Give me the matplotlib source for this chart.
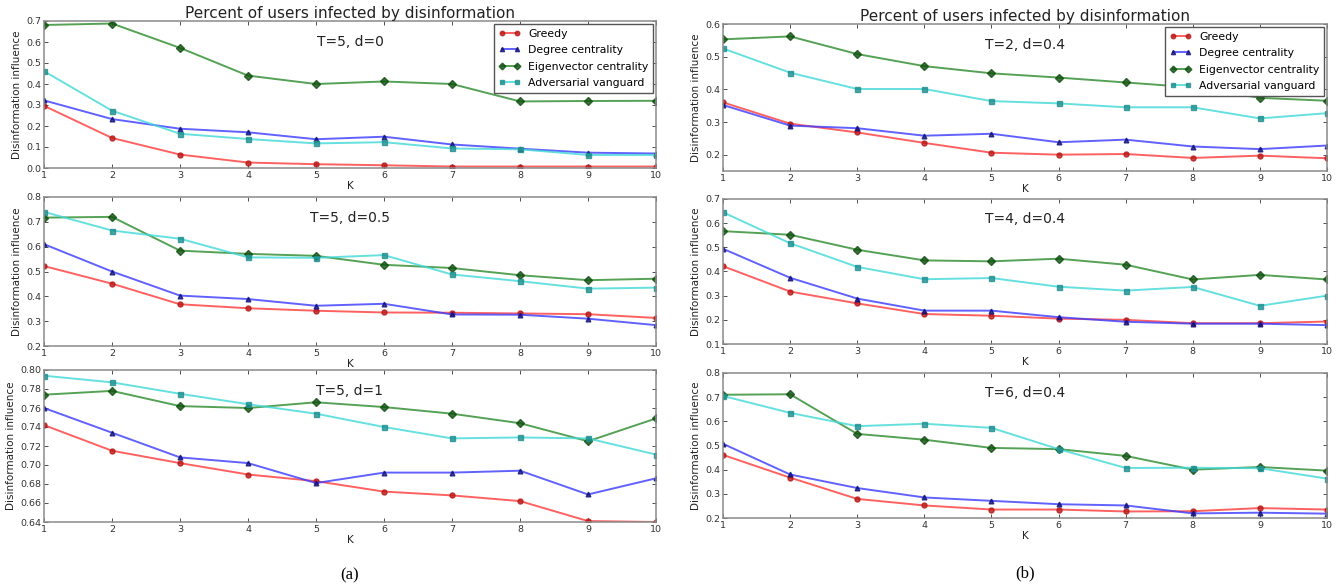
import matplotlib
matplotlib.use('Agg')
import matplotlib.pyplot as plt
from matplotlib.ticker import FormatStrFormatter

K = list(range(1, 11))
series_names = ["Greedy", "Degree centrality", "Eigenvector centrality", "Adversarial vanguard"]
main_title = "Percent of users infected by disinformation"
ylabel = "Disinformation influence"
xlabel = "K"

# ---- column (a): T=5, d in {0, 0.5, 1}
a1_label = "T=5, d=0"
a1_greedy = [0.296, 0.143, 0.064, 0.026, 0.018, 0.013, 0.007, 0.007, 0.007, 0.007]
a1_degree = [0.322, 0.233, 0.187, 0.170, 0.137, 0.149, 0.112, 0.092, 0.073, 0.069]
a1_eigen = [0.681, 0.688, 0.572, 0.440, 0.400, 0.412, 0.400, 0.317, 0.319, 0.320]
a1_adv = [0.461, 0.273, 0.163, 0.138, 0.117, 0.123, 0.093, 0.089, 0.062, 0.062]

a2_label = "T=5, d=0.5"
a2_greedy = [0.522, 0.451, 0.368, 0.352, 0.342, 0.335, 0.334, 0.331, 0.328, 0.313]
a2_degree = [0.610, 0.500, 0.403, 0.389, 0.362, 0.370, 0.327, 0.326, 0.310, 0.284]
a2_eigen = [0.717, 0.720, 0.584, 0.571, 0.563, 0.527, 0.514, 0.485, 0.465, 0.471]
a2_adv = [0.740, 0.665, 0.632, 0.557, 0.555, 0.566, 0.488, 0.461, 0.431, 0.435]

a3_label = "T=5, d=1"
a3_greedy = [0.742, 0.715, 0.702, 0.690, 0.683, 0.672, 0.668, 0.662, 0.641, 0.640]
a3_degree = [0.760, 0.734, 0.708, 0.702, 0.681, 0.692, 0.692, 0.694, 0.669, 0.686]
a3_eigen = [0.774, 0.778, 0.762, 0.760, 0.766, 0.761, 0.754, 0.744, 0.725, 0.749]
a3_adv = [0.794, 0.787, 0.775, 0.764, 0.754, 0.740, 0.728, 0.729, 0.728, 0.711]

# ---- column (b): d=0.4, T in {2, 4, 6}
b1_label = "T=2, d=0.4"
b1_greedy = [0.360, 0.295, 0.268, 0.236, 0.206, 0.200, 0.202, 0.190, 0.197, 0.189]
b1_degree = [0.352, 0.289, 0.281, 0.258, 0.264, 0.238, 0.246, 0.225, 0.217, 0.228]
b1_eigen = [0.553, 0.562, 0.508, 0.471, 0.449, 0.436, 0.421, 0.406, 0.374, 0.365]
b1_adv = [0.525, 0.451, 0.401, 0.401, 0.364, 0.357, 0.345, 0.345, 0.311, 0.327]

b2_label = "T=4, d=0.4"
b2_greedy = [0.422, 0.317, 0.268, 0.224, 0.217, 0.205, 0.200, 0.186, 0.186, 0.193]
b2_degree = [0.494, 0.374, 0.288, 0.238, 0.238, 0.211, 0.192, 0.184, 0.184, 0.178]
b2_eigen = [0.567, 0.552, 0.490, 0.446, 0.442, 0.453, 0.428, 0.367, 0.386, 0.367]
b2_adv = [0.645, 0.517, 0.419, 0.368, 0.373, 0.337, 0.321, 0.336, 0.258, 0.300]

b3_label = "T=6, d=0.4"
b3_greedy = [0.461, 0.367, 0.279, 0.252, 0.235, 0.235, 0.227, 0.228, 0.241, 0.235]
b3_degree = [0.507, 0.380, 0.324, 0.285, 0.271, 0.257, 0.252, 0.219, 0.222, 0.218]
b3_eigen = [0.710, 0.712, 0.548, 0.524, 0.490, 0.485, 0.457, 0.400, 0.411, 0.396]
b3_adv = [0.705, 0.635, 0.580, 0.590, 0.573, 0.485, 0.407, 0.408, 0.406, 0.363]

panel_labels = ["(a)", "(b)"]

line_colors = ["#ff3a3a", "#3a3aff", "#2a8a2a", "#40d8d8"]
marker_colors = ["#b81818", "#10107a", "#0f4f0f", "#1f8f8f"]
markers = ["o", "^", "D", "s"]
msizes = [3.6, 3.4, 3.8, 3.6]

W, H = 1335, 585
fig = plt.figure(figsize=(W / 100, H / 100), dpi=100)


def px_axes(x0, x1, y0, y1):
    return fig.add_axes([x0 / W, 1 - y1 / H, (x1 - x0) / W, (y1 - y0) / H])


panels = [
    ((44, 656, 21, 168), a1_label, [a1_greedy, a1_degree, a1_eigen, a1_adv], (0.0, 0.7),
     [0.0, 0.1, 0.2, 0.3, 0.4, 0.5, 0.6, 0.7], "%.1f", True),
    ((44, 656, 197, 346), a2_label, [a2_greedy, a2_degree, a2_eigen, a2_adv], (0.2, 0.8),
     [0.2, 0.3, 0.4, 0.5, 0.6, 0.7, 0.8], "%.1f", False),
    ((44, 656, 370, 522), a3_label, [a3_greedy, a3_degree, a3_eigen, a3_adv], (0.64, 0.80),
     [0.64, 0.66, 0.68, 0.70, 0.72, 0.74, 0.76, 0.78, 0.80], "%.2f", False),
    ((723, 1327, 24, 171), b1_label, [b1_greedy, b1_degree, b1_eigen, b1_adv], (0.15, 0.6),
     [0.2, 0.3, 0.4, 0.5, 0.6], "%.1f", True),
    ((723, 1327, 199, 344), b2_label, [b2_greedy, b2_degree, b2_eigen, b2_adv], (0.1, 0.7),
     [0.1, 0.2, 0.3, 0.4, 0.5, 0.6, 0.7], "%.1f", False),
    ((723, 1327, 373, 518), b3_label, [b3_greedy, b3_degree, b3_eigen, b3_adv], (0.2, 0.8),
     [0.2, 0.3, 0.4, 0.5, 0.6, 0.7, 0.8], "%.1f", False),
]

for box, label, data, ylim, yticks, fmt, is_top in panels:
    ax = px_axes(*box)
    for i, vals in enumerate(data):
        ax.plot(K, vals, color=line_colors[i], lw=1.4, alpha=0.8,
                marker=markers[i], ms=msizes[i], mfc=marker_colors[i],
                mec=marker_colors[i], label=series_names[i])
    ax.set_xlim(1, 10)
    ax.set_ylim(*ylim)
    ax.set_xticks(K)
    ax.set_yticks(yticks)
    ax.yaxis.set_major_formatter(FormatStrFormatter(fmt))
    ax.tick_params(direction="in", top=True, right=True, labelsize=6.8,
                   length=3, width=0.6, colors="#333333", pad=2)
    for s in ax.spines.values():
        s.set_color("#8a8a8a")
        s.set_linewidth(1.1)
    ax.set_xlabel(xlabel, fontsize=7.5, labelpad=1, color="#222222")
    ax.set_ylabel(ylabel, fontsize=7.5, labelpad=3, color="#222222")
    ax.text(0.5, 0.86, label, transform=ax.transAxes, ha="center", va="center",
            fontsize=10, color="#222222")
    if is_top:
        ax.set_title(main_title, fontsize=11, pad=2, color="#222222")
        leg = ax.legend(loc="upper right", fontsize=7.8, numpoints=2, handlelength=2.0,
                        fancybox=False, framealpha=1, edgecolor="#555555",
                        borderpad=0.45, labelspacing=0.6, handletextpad=0.7,
                        borderaxespad=0.25, markerscale=0.9)
        leg.get_frame().set_linewidth(1.0)

fig.text(350 / W, 1 - 575 / H, panel_labels[0], ha="center", va="center",
         fontsize=12, family="Liberation Serif")
fig.text(1025 / W, 1 - 573 / H, panel_labels[1], ha="center", va="center",
         fontsize=12, family="Liberation Serif")

fig.savefig("out.png", dpi=100)
